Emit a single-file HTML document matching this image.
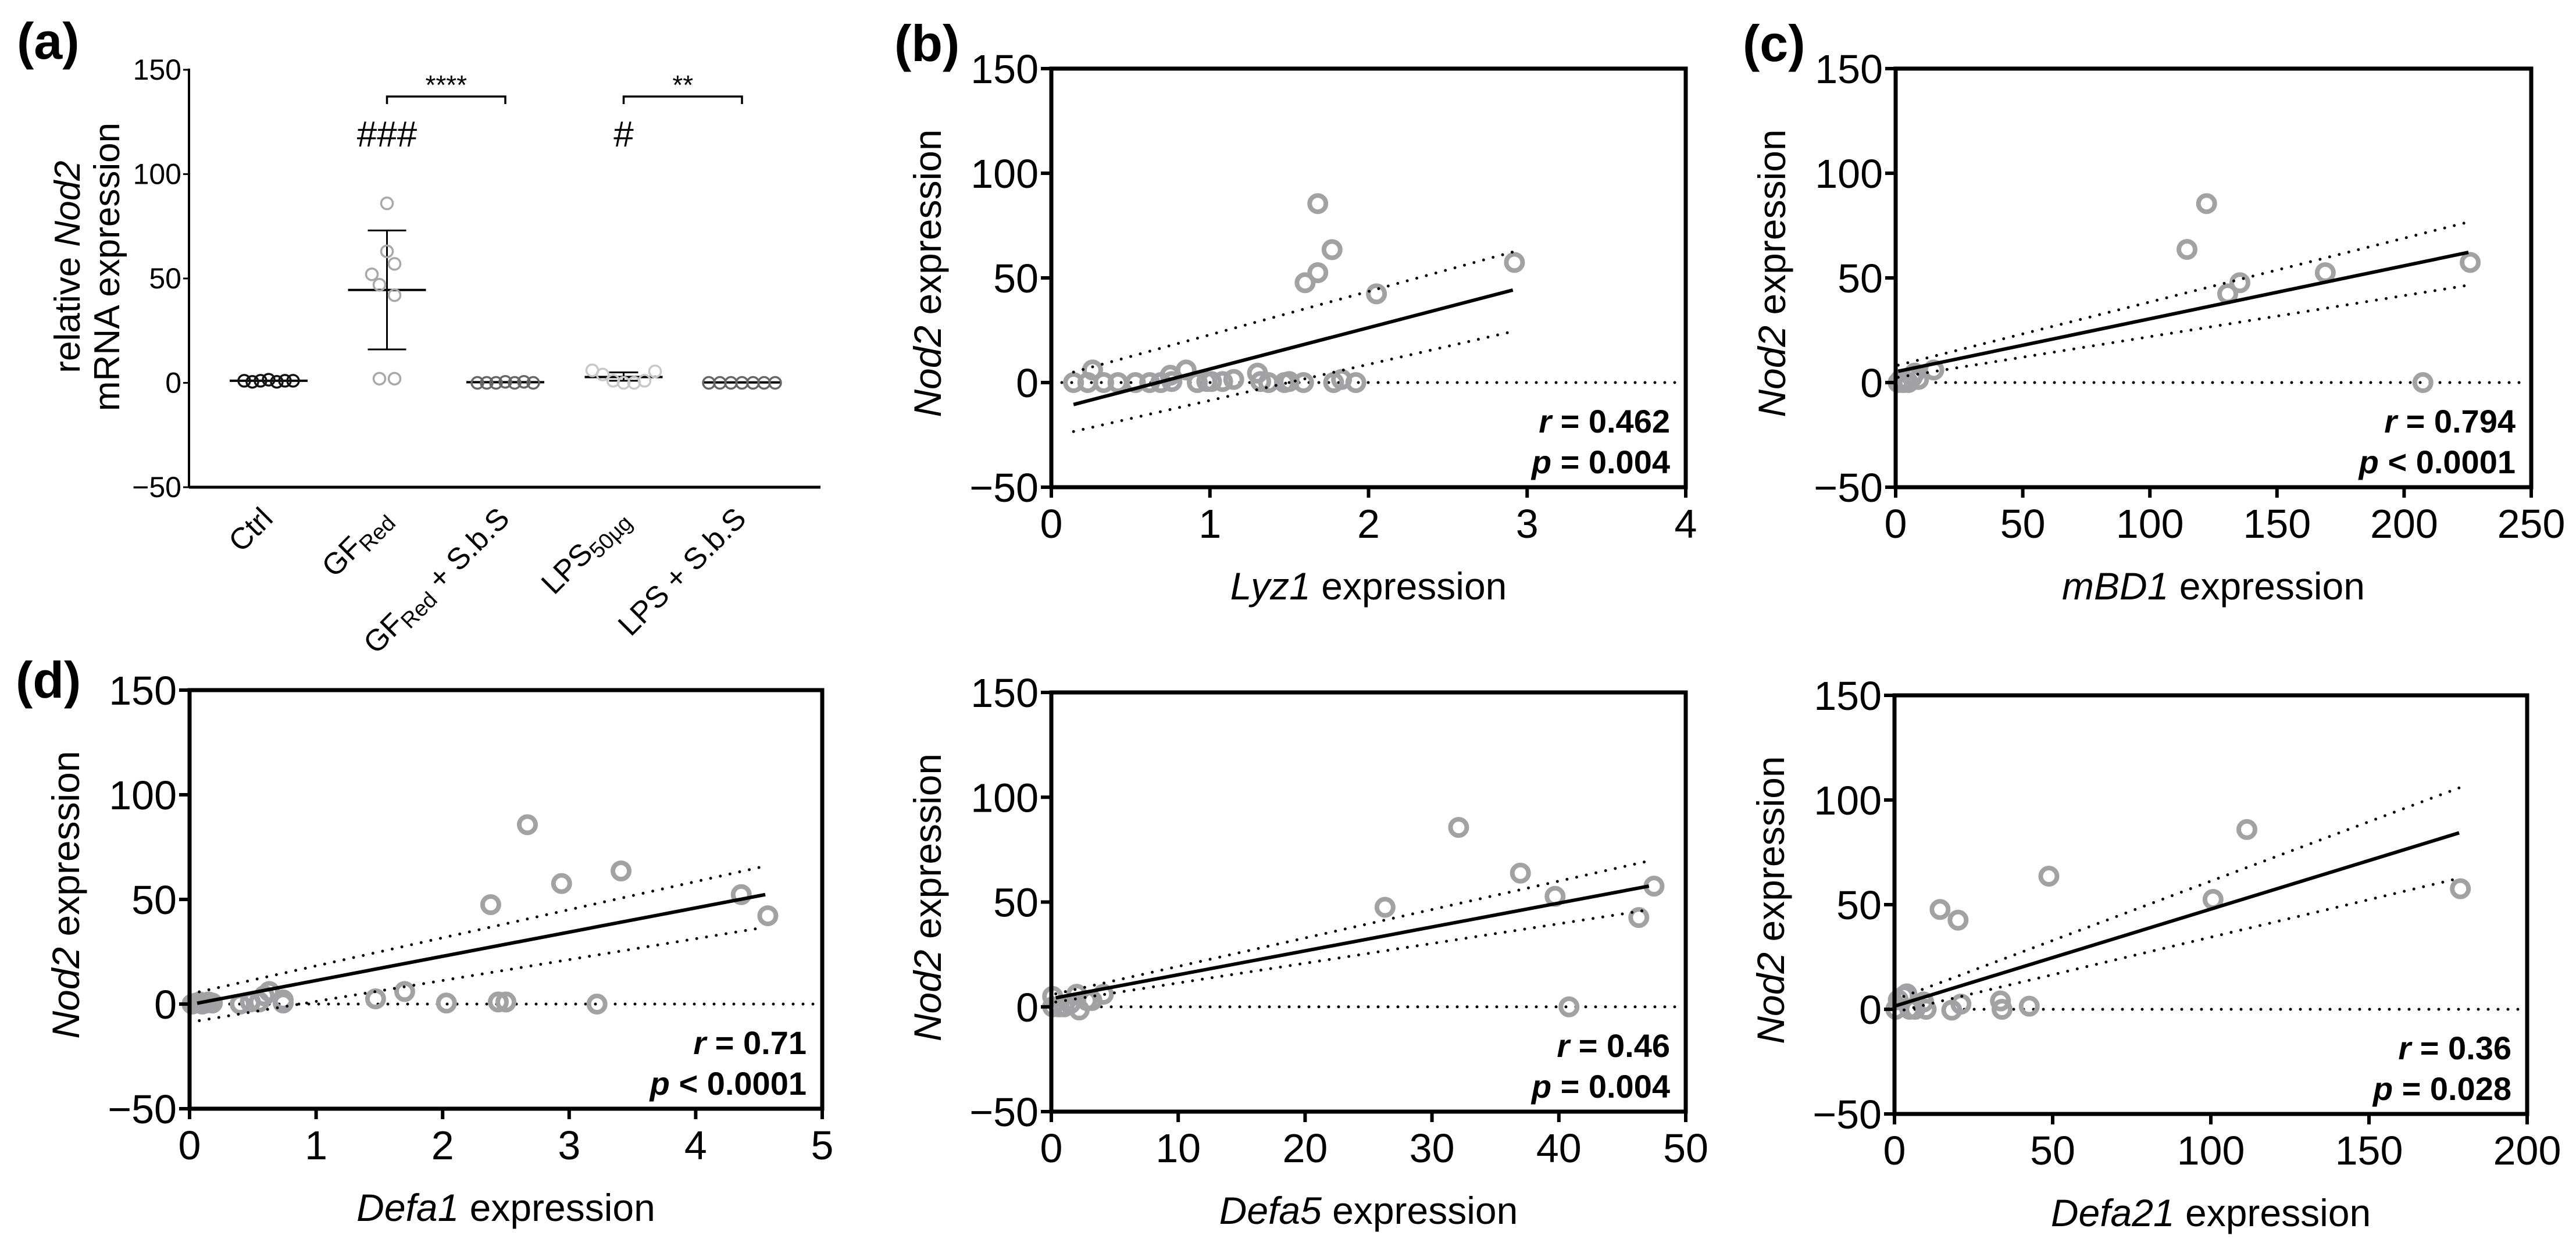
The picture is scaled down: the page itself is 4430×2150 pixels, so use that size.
<!DOCTYPE html>
<html><head><meta charset="utf-8"><style>
html,body{margin:0;padding:0;background:#fff;}
svg{display:block;}
text{font-family:"Liberation Sans",Arial,sans-serif;}
</style></head><body>
<svg id="fig" xmlns="http://www.w3.org/2000/svg" width="4430" height="2150" viewBox="0 0 4430 2150">
<rect width="4430" height="2150" fill="#fff"/>
</svg>
<script>
// ---------- Panel (a) data ----------
var aCategories = ["Ctrl","GF","GF+SbS","LPS","LPS+SbS"];
var aCtrl = [1,0.5,1,1.5,0.5,1,1];
var aGF = [86,63,57,52,47,42,2,2];
var aGFjit = [0,0,1,-2,-1,1,-1,1];
var aGFS = [0,0,0,0.5,0,0.5,0];
var aLPS = [6,4,1,0,0,1,5.5];
var aLPSS = [0,0,0,0,0,0,0];
var aMeans = [1,44.5,0.3,2.8,0.2];
var aErrHi = [null,73,null,5,null];
var aErrLo = [null,16,null,1,null];
var aYTicks = [150,100,50,0,-50];

// ---------- Panel (b) Lyz1 ----------
var bX = [0.14,0.23,0.26,0.33,0.42,0.53,0.62,0.69,0.75,0.76,0.85,0.92,0.98,1.01,1.08,1.15,1.3,1.32,1.37,1.47,1.5,1.59,1.6,1.68,1.68,1.77,1.78,1.83,1.92,2.05,2.92];
var bY = [0,0,6,0,0,0,0,0,3.5,0.5,6,0,0.5,0.5,0.5,1.5,4.5,0.5,0,0,0.5,0,47.7,52.5,85.5,63.5,0,1.5,0,42.4,57.4];
var bFitX = [0.14,2.91], bFitY = [-10.5,44.2];
var bUpY = [5,62.4], bLoY = [-23.4,24.4];
var bXTicks = [0,1,2,3,4];

// ---------- Panel (c) mBD1 ----------
var cX = [1,2,3,5,6.5,9,7.5,15,114.6,122.3,130.6,135.4,169,207.4,226];
var cY = [0,1.5,0,0,2.5,1.5,4.5,6,63.6,85.5,42.4,47.7,52.5,0,57.4];
var cFitX = [1,225.3], cFitY = [5.4,62.2];
var cUpY = [8.3,76.7], cLoY = [2.5,46.5];
var cXTicks = [0,50,100,150,200,250];

// ---------- Panel (d) Defa1 ----------
var dX = [0.02,0.05,0.08,0.1,0.13,0.15,0.18,0.4,0.48,0.55,0.59,0.63,0.74,0.74,1.47,1.7,2.03,2.38,2.44,2.5,2.67,2.94,3.22,3.41,4.36,4.57];
var dY = [0,0.5,1,0,0.5,1,0.5,0,1,1,4,6,2,0.5,2.5,6,0.5,47.5,1,1,85.7,57.6,0,63.6,52.3,42.2];
var dFitX = [0.06,4.55], dFitY = [0.4,52.3];
var dUpX = [0,4.52], dUpY = [4.8,65.5], dLoY = [-8.7,36.4];
var dXTicks = [0,1,2,3,4,5];

// ---------- Panel (e) Defa5 ----------
var eX = [0.1,0.1,0.6,1,1.5,2,2.2,2.8,3.2,4.1,26.3,32.1,36.97,39.7,40.8,46.3,47.5];
var eY = [5,0,0,0,1.5,6,-1.5,3,3,6,47.5,85.6,63.8,52.7,0,42.6,57.6];
var eFitX = [0.35,47.1], eFitY = [4.3,57.6];
var eUpY = [6.2,69.6], eLoY = [2.3,46.3];
var eXTicks = [0,10,20,30,40,50];

// ---------- Panel (f) Defa21 ----------
var fX = [0.4,1.2,3,3.9,4.8,6.5,9.2,10,14.4,18.1,20.1,21,33.5,34,42.6,48.8,100.7,111.4,178.9];
var fY = [0,4.5,6.4,7.4,0,0,3.5,0,47.7,-0.4,42.6,2.5,4,0,1.5,63.6,52.5,85.9,57.6];
var fFitX = [0,178.5], fFitY = [1.5,84.3];
var fUpY = [4.5,105.8], fLoY = [-1.4,62.6];
var fXTicks = [0,50,100,150,200];

var yTicks = [-50,0,50,100,150];

var NS = "http://www.w3.org/2000/svg";
var svg = document.getElementById("fig");
function mk(tag, attrs, parent){
  var e = document.createElementNS(NS, tag);
  for (var k in attrs) e.setAttribute(k, attrs[k]);
  (parent||svg).appendChild(e);
  return e;
}
function txt(str, attrs, parent){
  var e = mk("text", attrs, parent);
  e.textContent = str;
  return e;
}

// ---------- scatter panel ----------
function scatter(cfg){
  var g = mk("g", {});
  
  
  var L=cfg.L,R=cfg.R,T=cfg.T,B=cfg.B;
  var xs = function(v){ return L + (v - cfg.xmin)/(cfg.xmax - cfg.xmin)*(R-L); };
  var ys = function(v){ return B - (v + 50)/200*(B-T); };
  var z = mk("line",{x1:L+18,x2:R-4,y1:ys(0),y2:ys(0),stroke:"#000","stroke-width":5,"stroke-dasharray":"0 17","stroke-linecap":"round"},g);
  
  
  for (var i=0;i<cfg.xv.length;i++){
    var c = mk("circle",{cx:xs(cfg.xv[i]),cy:ys(cfg.yv[i]),r:14,fill:"none",stroke:"#a2a2a5","stroke-width":8},g);
    
    
  }
  var upX = cfg.upX || cfg.fitX;
  var u = mk("line",{x1:xs(upX[0]),x2:xs(upX[1]),y1:ys(cfg.upY[0]),y2:ys(cfg.upY[1]),stroke:"#000","stroke-width":5,"stroke-dasharray":"0 17","stroke-linecap":"round"},g);
  
  
  var lo = mk("line",{x1:xs(upX[0]),x2:xs(upX[1]),y1:ys(cfg.loY[0]),y2:ys(cfg.loY[1]),stroke:"#000","stroke-width":5,"stroke-dasharray":"0 17","stroke-linecap":"round"},g);
  
  
  var f = mk("line",{x1:xs(cfg.fitX[0]),x2:xs(cfg.fitX[1]),y1:ys(cfg.fitY[0]),y2:ys(cfg.fitY[1]),stroke:"#000","stroke-width":6},g);
  
  
  var fr = mk("rect",{x:L,y:T,width:R-L,height:B-T,fill:"none",stroke:"#000","stroke-width":7},g);
  
  
  for (var j=0;j<yTicks.length;j++){
    var yy = ys(yTicks[j]);
    var t = mk("line",{x1:L-18,x2:L,y1:yy,y2:yy,stroke:"#000","stroke-width":6},g);
    
    
    var lb = txt(yTicks[j]<0 ? "\u2212"+Math.abs(yTicks[j]) : String(yTicks[j]),{x:L-22,y:yy+25,"font-size":70,"text-anchor":"end"},g);
    
    
  }
  for (var k=0;k<cfg.xt.length;k++){
    var xx = xs(cfg.xt[k]);
    var t2 = mk("line",{x1:xx,x2:xx,y1:B,y2:B+18,stroke:"#000","stroke-width":6},g);
    
    
    var lb2 = txt(String(cfg.xt[k]),{x:xx,y:B+87,"font-size":70,"text-anchor":"middle"},g);
    
    
  }
  var cy = (T+B)/2 - 8, yx = L-190;
  var yt = mk("text",{x:yx,y:cy,"font-size":66,"text-anchor":"middle",transform:"rotate(-90 "+yx+" "+cy+")"},g);
  
  
  var s1 = mk("tspan",{"font-style":"italic"},yt); s1.textContent="Nod2";
  var s2 = mk("tspan",{},yt); s2.textContent=" expression";
  var xt = mk("text",{x:(L+R)/2,y:B+193,"font-size":66,"text-anchor":"middle"},g);
  
  
  var s3 = mk("tspan",{"font-style":"italic"},xt); s3.textContent=cfg.gene;
  var s4 = mk("tspan",{},xt); s4.textContent=" expression";
  var r1 = mk("text",{x:R-27,y:B-94,"font-size":56,"font-weight":"bold","text-anchor":"end"},g);
  
  
  var a1 = mk("tspan",{"font-style":"italic"},r1); a1.textContent="r";
  var a2 = mk("tspan",{},r1); a2.textContent=" = "+cfg.r;
  var p1 = mk("text",{x:R-27,y:B-24,"font-size":56,"font-weight":"bold","text-anchor":"end"},g);
  
  
  var b1 = mk("tspan",{"font-style":"italic"},p1); b1.textContent="p";
  var b2 = mk("tspan",{},p1); b2.textContent=" "+cfg.p;
}

scatter({name:"panel-b-lyz1",L:1808,R:2899,T:118,B:838,xmin:0,xmax:4,xv:bX,yv:bY,fitX:bFitX,fitY:bFitY,upY:bUpY,loY:bLoY,xt:bXTicks,gene:"Lyz1",r:"0.462",p:"= 0.004"});
scatter({name:"panel-c-mbd1",L:3260,R:4353,T:118,B:838,xmin:0,xmax:250,xv:cX,yv:cY,fitX:cFitX,fitY:cFitY,upY:cUpY,loY:cLoY,xt:cXTicks,gene:"mBD1",r:"0.794",p:"< 0.0001"});
scatter({name:"panel-d-defa1",L:326,R:1414,T:1187,B:1907,xmin:0,xmax:5,xv:dX,yv:dY,fitX:dFitX,fitY:dFitY,upX:dUpX,upY:dUpY,loY:dLoY,xt:dXTicks,gene:"Defa1",r:"0.71",p:"< 0.0001"});
scatter({name:"panel-e-defa5",L:1808,R:2899,T:1191,B:1912,xmin:0,xmax:50,xv:eX,yv:eY,fitX:eFitX,fitY:eFitY,upY:eUpY,loY:eLoY,xt:eXTicks,gene:"Defa5",r:"0.46",p:"= 0.004"});
scatter({name:"panel-f-defa21",L:3258,R:4346,T:1196,B:1916,xmin:0,xmax:200,xv:fX,yv:fY,fitX:fFitX,fitY:fFitY,upY:fUpY,loY:fLoY,xt:fXTicks,gene:"Defa21",r:"0.36",p:"= 0.028"});

// ---------- Panel (a) ----------
(function(){
  var g = mk("g",{});
  
  
  var AX=325, AR=1411, AB=838, AT=120;
  var ys = function(v){ return AB - (v+50)/200*(AB-AT); };
  var catX = function(i){ return 462 + i*203.5; };
  var ax = mk("line",{x1:AX,x2:AX,y1:AT-2,y2:AB,stroke:"#000","stroke-width":4},g);
  
  
  var xa = mk("line",{x1:AX,x2:AR,y1:AB,y2:AB,stroke:"#000","stroke-width":5},g);
  
  
  for (var j=0;j<aYTicks.length;j++){
    var yy = ys(aYTicks[j]);
    var t = mk("line",{x1:AX-10,x2:AX,y1:yy,y2:yy,stroke:"#000","stroke-width":3},g);
    
    
    var lb = txt(aYTicks[j]<0 ? "\u2212"+Math.abs(aYTicks[j]) : String(aYTicks[j]),{x:AX-13,y:yy+17,"font-size":50,"text-anchor":"end"},g);
    
    
  }
  var groups = [aCtrl,aGF,aGFS,aLPS,aLPSS];
  var cols = ["#111","#a8a8a8","#666","#c8c8c8","#666"];
  var spacing = [14,13,16,18,19];
  for (var gi=0; gi<groups.length; gi++){
    var arr = groups[gi], cx = catX(gi);
    var m = mk("line",{x1:cx-67,x2:cx+67,y1:ys(aMeans[gi]),y2:ys(aMeans[gi]),stroke:"#000","stroke-width":4},g);
    
    
    if (aErrHi[gi]!==null){
      var e = mk("line",{x1:cx,x2:cx,y1:ys(aErrHi[gi]),y2:ys(aErrLo[gi]),stroke:"#000","stroke-width":3},g);
      
      
      var cw = gi===1 ? 33 : 25;
      var c1 = mk("line",{x1:cx-cw,x2:cx+cw,y1:ys(aErrHi[gi]),y2:ys(aErrHi[gi]),stroke:"#000","stroke-width":3},g);
      
      
      var c2 = mk("line",{x1:cx-cw,x2:cx+cw,y1:ys(aErrLo[gi]),y2:ys(aErrLo[gi]),stroke:"#000","stroke-width":3},g);
      
      
    }
    for (var i=0;i<arr.length;i++){
      var off = gi===1 ? aGFjit[i]*spacing[gi] : (i-(arr.length-1)/2)*spacing[gi];
      var p = mk("circle",{cx:cx+off,cy:ys(arr[i]),r:10,fill:"#fff","fill-opacity":0,stroke:cols[gi],"stroke-width":3.5},g);
      
      
    }
  }
  var labs = [["Ctrl",""],["GF","Red"],["GF","Red"," + S.b.S"],["LPS","50\u00b5g"],["LPS + S.b.S",""]];
  for (var li=0; li<labs.length; li++){
    var lx = catX(li)+10, ly = 895;
    var tl = mk("text",{x:lx,y:ly,"font-size":52,"text-anchor":"end",transform:"rotate(-45 "+lx+" "+ly+")"},g);
    
    
    var q1 = mk("tspan",{},tl); q1.textContent = labs[li][0];
    if (labs[li][1]){ var q2 = mk("tspan",{"font-size":38,dy:10},tl); q2.textContent = labs[li][1]; }
    if (labs[li][2]){ var q3 = mk("tspan",{dy:-10},tl); q3.textContent = labs[li][2]; }
  }
  var br = [[1,2,"****"],[3,4,"**"]];
  for (var bi=0; bi<br.length; bi++){
    var x1=catX(br[bi][0]), x2=catX(br[bi][1]);
    var pl = mk("polyline",{points:x1+",179 "+x1+",166 "+x2+",166 "+x2+",179",fill:"none",stroke:"#000","stroke-width":3.5},g);
    
    
    var st = txt(br[bi][2],{x:(x1+x2)/2,y:162,"font-size":46,"text-anchor":"middle"},g);
    
    
  }
  var h1 = txt("###",{x:catX(1),y:252,"font-size":62,"text-anchor":"middle"},g);
  
  
  var h2 = txt("#",{x:catX(3),y:252,"font-size":62,"text-anchor":"middle"},g);
  
  
  var t1 = mk("text",{x:137,y:459,"font-size":62,"text-anchor":"middle",transform:"rotate(-90 137 459)"},g);
  
  
  var u1 = mk("tspan",{},t1); u1.textContent="relative ";
  var u2 = mk("tspan",{"font-style":"italic"},t1); u2.textContent="Nod2";
  var t2 = txt("mRNA expression",{x:205,y:459,"font-size":62,"text-anchor":"middle",transform:"rotate(-90 205 459)"},g);
  
  
})();

var pl = [["(a)",29,101],["(b)",1538,105],["(c)",2997,105],["(d)",27,1200]];
for (var q=0;q<pl.length;q++){
  var e = txt(pl[q][0],{x:pl[q][1],y:pl[q][2],"font-size":88,"font-weight":"bold"});
  
  
}
</script>
</body></html>
